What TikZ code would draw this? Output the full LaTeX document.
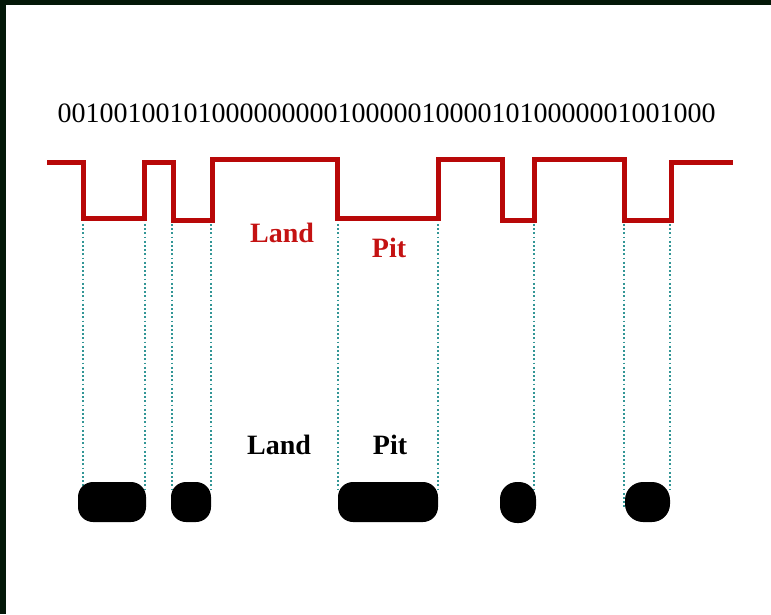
\documentclass[tikz,border=0pt]{standalone}
\usepackage{fontspec}
\setmainfont{Liberation Serif}
\definecolor{trackred}{RGB}{184,8,8}
\definecolor{labelred}{RGB}{196,18,18}
\definecolor{guideteal}{RGB}{50,150,150}
\definecolor{framedark}{RGB}{4,24,8}
\begin{document}
\begin{tikzpicture}[x=1pt,y=-1pt,
  bits/.style={inner sep=0pt,font=\fontsize{28}{28}\selectfont},
  lbl/.style={inner sep=0pt,font=\fontsize{28}{28}\selectfont\bfseries},
  signal/.style={draw=trackred,line width=5pt,line join=miter},
  guide/.style={draw=guideteal,line width=1.6pt,dash pattern=on 1.8pt off 2.4pt},
  pitblob/.style={fill=black,rounded corners=14pt,inner sep=0pt}]
  \useasboundingbox (0,0) rectangle (771,614);
  % page and dark frame edges
  \fill[white] (0,0) rectangle (771,614);
  \fill[framedark] (0,0) rectangle (771,5);
  \fill[framedark] (0,0) rectangle (6,614);

  % channel bit string
  \node[bits] (code) at (386.5,113) {00100100101000000000100000100001010000001001000};

  % transition positions (guide tops and bottoms)
  \foreach \n/\x/\yb in {1/83/490, 2/145/492, 3/172/490, 4/211/492, 5/338/490,
                         6/438/492, 7/534/492, 8/624/508, 9/670/490}{
    \coordinate (t\n) at (\x,224);
    \coordinate (u\n) at (\x,\yb);
  }

  % dotted guides
  \foreach \n in {1,...,9}{ \draw[guide] (t\n) -- (u\n); }

  % read-out signal
  \draw[signal] (47,162) -- (83,162) -- (83,218) -- (144,218) -- (144,162)
    -- (173,162) -- (173,220) -- (212,220) -- (212,159) -- (337,159)
    -- (337,218) -- (438,218) -- (438,159) -- (502,159) -- (502,220)
    -- (534,220) -- (534,159) -- (624,159) -- (624,220) -- (671,220)
    -- (671,162) -- (733,162);

  % labels on the signal
  \node[lbl,text=labelred] (landR) at (282,233) {Land};
  \node[lbl,text=labelred] (pitR) at (389,248) {Pit};

  % labels above the marks
  \node[lbl] (landB) at (279,445) {Land};
  \node[lbl] (pitB) at (390,445) {Pit};

  % pits on the disc surface
  \node[pitblob,minimum width=68pt,minimum height=40pt,rounded corners=15pt] (m1) at (112,502) {};
  \node[pitblob,minimum width=40pt,minimum height=40pt,rounded corners=15pt] (m2) at (191,502) {};
  \node[pitblob,minimum width=100pt,minimum height=40pt,rounded corners=15pt] (m3) at (388,502) {};
  \node[pitblob,minimum width=36pt,minimum height=41pt,rounded corners=17pt] (m4) at (518,502.5) {};
  \node[pitblob,minimum width=45pt,minimum height=40pt,rounded corners=18pt] (m5) at (647.5,502) {};
\end{tikzpicture}
\end{document}
